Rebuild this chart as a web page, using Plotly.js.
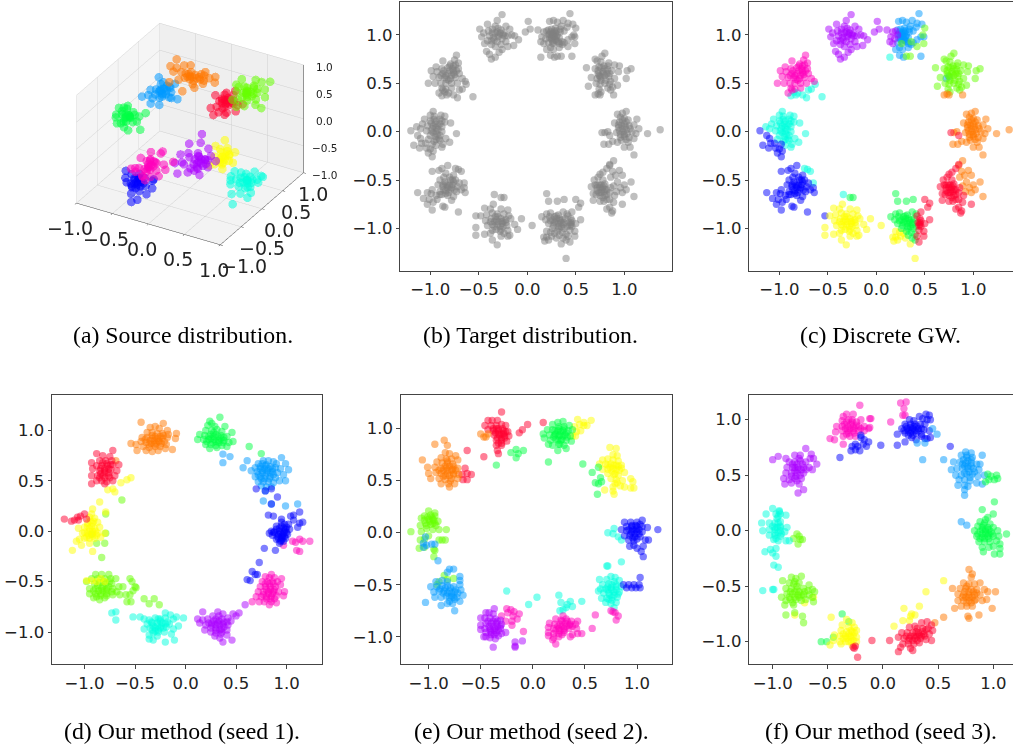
<!DOCTYPE html>
<html>
<head>
<meta charset="utf-8">
<script src="https://cdn.plot.ly/plotly-3.0.1.min.js"></script>
<style>html,body{margin:0;padding:0;background:#fff;overflow:hidden;width:1013px;height:746px}#g{width:1030px;height:746px}</style>
</head>
<body>
<div id="g"></div>
<script>
// colours
const RED='#ff0030',ORA='#ff7700',YEL='#ffff00',LIM='#66ff00',GRN='#00ff44',CYA='#00ffdd',AZU='#0099ff',BLU='#0000ff',PUR='#aa00ff',MAG='#ff00bb';
const captions=['(a) Source distribution.','(b) Target distribution.','(c) Discrete GW.','(d) Our method (seed 1).','(e) Our method (seed 2).','(f) Our method (seed 3).'];
const tickVals=[-1,-0.5,0,0.5,1];
const tickText=['\u22121.0','\u22120.5','0.0','0.5','1.0'];

// panel (a): source points x,y,z
const srcGreen=[[-.55,-.58,.5],[-.68,-.6,.5],[-.62,-.52,.6],[-.5,-.5,.55],[-.45,-.6,.45],[-.58,-.66,.42],[-.52,-.7,.5],[-.6,-.72,.45],[-.7,-.5,.55],[-.42,-.5,.5],[-.38,-.62,.5],[-.48,-.76,.45],[-.56,-.55,.62],[-.5,-.62,.58],[-.65,-.66,.5],[-.6,-.46,.6],[-.4,-.8,.45],[-.3,-.68,.42],[-.34,-.48,.58],[-.52,-.55,.48],[-.55,-.6,.5],[-.5,-.58,.52],[-.58,-.55,.52],[-.53,-.54,.5],[-.48,-.6,.52],[-.6,-.6,.54],[-.52,-.64,.46],[-.46,-.54,.54],[-.56,-.62,.48],[-.62,-.56,.56]];
const srcAzure=[[-.5,.16,.5],[-.62,.12,.5],[-.55,.25,.55],[-.45,.28,.52],[-.38,.2,.5],[-.32,.1,.48],[-.42,.05,.5],[-.55,.05,.42],[-.6,.22,.45],[-.68,.02,.42],[-.45,.14,.58],[-.5,.22,.62],[-.36,.26,.62],[-.4,-.05,.42],[-.52,-.05,.4],[-.58,.0,.5],[-.3,.02,.55],[-.62,.32,.6],[-.44,.18,.45],[-.28,.18,.42],[-.47,.14,.48],[-.5,.12,.52],[-.44,.1,.5],[-.48,.2,.52],[-.42,.16,.54],[-.52,.18,.5],[-.46,.06,.46],[-.54,.1,.46],[-.4,.22,.56],[-.46,.24,.56]];
const srcOrange=[[-.55,.55,.58],[-.48,.62,.55],[-.4,.66,.52],[-.34,.64,.5],[-.28,.7,.48],[-.22,.72,.52],[-.15,.72,.5],[-.1,.78,.5],[-.58,.68,.55],[-.5,.72,.6],[-.42,.74,.62],[-.36,.56,.55],[-.3,.58,.42],[-.45,.5,.5],[-.18,.62,.45],[-.24,.52,.42],[-.55,.45,.45],[-.35,.42,.38],[-.05,.68,.48],[-.25,.8,.52],[-.42,.6,.48],[-.62,.6,.62],[-.65,.8,.6],[-.36,.62,.52],[-.32,.68,.52],[-.28,.64,.5],[-.24,.66,.48],[-.38,.68,.55],[-.3,.6,.47],[-.42,.62,.55],[-.2,.68,.46],[-.34,.58,.5],[-.26,.72,.53]];
const srcRed=[[.3,.36,.5],[.2,.36,.45],[.24,.46,.55],[.36,.42,.58],[.4,.32,.52],[.3,.26,.42],[.22,.26,.42],[.16,.22,.4],[.12,.4,.5],[.32,.3,.48],[.42,.42,.42],[.46,.3,.4],[.38,.22,.4],[.28,.2,.38],[.18,.46,.42],[.26,.38,.58],[.34,.5,.6],[.5,.4,.48],[.4,.14,.42],[.22,.18,.32],[.32,.34,.48],[.34,.38,.52],[.3,.4,.52],[.36,.34,.46],[.26,.32,.46],[.28,.36,.5],[.38,.4,.5],[.32,.28,.44],[.24,.36,.48],[.4,.36,.48]];
const srcLime=[[.42,.63,.5],[.3,.6,.5],[.35,.7,.55],[.46,.74,.58],[.54,.68,.52],[.58,.58,.48],[.48,.54,.45],[.38,.5,.45],[.3,.5,.42],[.25,.68,.56],[.42,.85,.6],[.52,.82,.62],[.6,.76,.55],[.66,.66,.5],[.62,.5,.45],[.5,.44,.42],[.34,.58,.62],[.44,.58,.55],[.5,.62,.48],[.36,.76,.42],[.28,.76,.62],[.58,.92,.58],[.7,.5,.42],[.4,.42,.38],[.42,.64,.54],[.46,.66,.52],[.44,.6,.5],[.4,.68,.56],[.5,.66,.5],[.46,.58,.48],[.38,.62,.5],[.52,.72,.56],[.48,.7,.58],[.4,.56,.46]];
const srcCyan=[[.82,-.06,-.5],[.7,-.1,-.5],[.75,.05,-.48],[.85,.08,-.42],[.92,.02,-.5],[.98,-.06,-.48],[.88,-.14,-.55],[.78,-.18,-.55],[.7,-.24,-.5],[.62,0,-.45],[.66,-.16,-.42],[.95,-.18,-.6],[1.0,.02,-.42],[.85,-.26,-.6],[.96,-.28,-.62],[.8,.0,-.55],[.86,-.04,-.62],[.75,-.3,-.62],[1.05,-.1,-.52],[.92,.12,-.5],[.62,-.1,-.55],[.8,-.36,-.75],[.72,-.02,-.42],[.82,-.05,-.5],[.85,-.09,-.52],[.8,-.1,-.52],[.78,-.04,-.47],[.88,-.03,-.48],[.84,-.01,-.46],[.76,-.12,-.53],[.86,-.16,-.56],[.9,-.08,-.5],[.74,-.06,-.48]];
const srcYellow=[[.28,.27,-.5],[.2,.24,-.5],[.22,.34,-.42],[.3,.38,-.4],[.36,.32,-.45],[.4,.24,-.5],[.34,.18,-.55],[.26,.14,-.55],[.2,.12,-.58],[.44,.32,-.38],[.48,.2,-.48],[.38,.12,-.58],[.3,.28,-.6],[.24,.42,-.3],[.18,.3,-.35],[.3,.26,-.48],[.33,.28,-.46],[.28,.22,-.52],[.34,.24,-.5],[.26,.3,-.44],[.32,.34,-.42],[.38,.28,-.44],[.3,.2,-.54]];
const srcPurple=[[.1,.04,-.5],[-.02,.02,-.45],[.04,.12,-.42],[.14,.12,-.5],[.2,.04,-.5],[.14,-.06,-.55],[.04,-.06,-.58],[-.04,-.08,-.52],[-.1,-.02,-.55],[-.08,.1,-.45],[.02,.22,-.3],[.14,.2,-.35],[.22,.12,-.4],[.26,-.02,-.5],[.2,-.12,-.6],[.06,-.16,-.58],[-.06,-.2,-.62],[-.18,.08,-.5],[-.14,.22,-.38],[-.02,.32,-.22],[.1,.02,-.38],[.08,-.04,-.62],[-.2,-.02,-.6],[.3,.1,-.45],[.12,.06,-.46],[.14,.02,-.5],[.1,0,-.5],[.16,.08,-.46],[.08,.08,-.44],[.18,0,-.52],[.06,-.02,-.52],[.12,-.04,-.54],[.2,.08,-.46],[.04,.04,-.48]];
const srcMag=[[-.35,-.42,-.5],[-.45,-.45,-.5],[-.4,-.35,-.42],[-.3,-.32,-.42],[-.24,-.4,-.5],[-.26,-.5,-.56],[-.36,-.52,-.58],[-.44,-.55,-.5],[-.52,-.42,-.55],[-.5,-.32,-.42],[-.4,-.25,-.32],[-.28,-.22,-.32],[-.18,-.32,-.42],[-.16,-.48,-.52],[-.28,-.6,-.56],[-.4,-.46,-.62],[-.32,-.4,-.32],[-.6,-.38,-.62],[-.1,-.42,-.42],[-.05,-.32,-.32],[-.22,-.28,-.22],[-.3,-.46,-.42],[-.34,-.42,-.46],[-.32,-.38,-.44],[-.3,-.44,-.48],[-.36,-.38,-.44],[-.28,-.4,-.44],[-.38,-.44,-.5],[-.33,-.48,-.5],[-.26,-.36,-.4],[-.36,-.34,-.4],[-.3,-.36,-.38]];
const srcBlue=[[-.28,-.76,-.5],[-.36,-.72,-.48],[-.42,-.8,-.52],[-.32,-.84,-.55],[-.22,-.84,-.58],[-.18,-.76,-.52],[-.24,-.68,-.45],[-.32,-.66,-.42],[-.42,-.68,-.45],[-.46,-.76,-.48],[-.3,-.9,-.62],[-.2,-.92,-.68],[-.12,-.84,-.6],[-.1,-.74,-.55],[-.14,-.66,-.48],[-.28,-.76,-.42],[-.25,-.98,-.7],[-.5,-.68,-.42],[-.36,-.78,-.58],[-.16,-.6,-.5],[-.28,-.78,-.52],[-.3,-.74,-.48],[-.26,-.74,-.5],[-.32,-.78,-.52],[-.24,-.78,-.54],[-.34,-.74,-.48],[-.28,-.82,-.56],[-.22,-.74,-.5],[-.3,-.7,-.46],[-.36,-.8,-.52]];

// panel (c): target points by colour (panel (b) shows all of them in grey)
const tgtPur=[[-.26,1.21],[-.31,1.15],[-.41,1.11],[-.33,1.09],[-.49,1.06],[-.45,1.02],[-.4,1.04],[-.36,1.02],[-.31,1.03],[-.27,1.05],[-.22,1.09],[-.18,1.06],[-.16,1],[-.2,.99],[-.25,1],[-.3,.98],[-.35,.97],[-.47,.98],[-.44,.91],[-.41,.94],[-.42,.83],[-.39,.8],[-.37,.75],[-.33,.77],[-.29,.82],[-.26,.85],[-.27,.9],[-.33,.88],[-.37,.9],[-.13,.99],[-.09,.95],[-.14,.89],[-.2,.88],[-.22,.93],[.01,1.14],[.03,1.06],[-.02,1.03],[.11,1.05],[.15,.98],[.17,1.03],[.2,1.04],[.14,.93],[.17,.91],[.19,.96],[.22,1],[-.33,1.02],[-.29,1],[-.34,.95],[-.28,1.02],[-.31,.93],[-.24,1.02],[-.39,.99],[-.26,.96],[-.23,.99],[-.36,1.06],[-.3,1.07],[-.37,.94]];
const tgtAzu=[[.44,1.22],[.37,1.15],[.31,1.13],[.27,1.15],[.23,1.14],[.42,1.12],[.47,1.11],[.41,1.08],[.35,1.09],[.29,1.07],[.25,1.06],[.22,1.05],[.27,1.02],[.25,.98],[.28,.98],[.31,1],[.34,1.03],[.3,.94],[.26,.94],[.22,.92],[.24,.87],[.2,.85],[.27,.85],[.33,.87],[.36,.9],[.42,.95],[.46,.98],[.49,.98],[.46,.78],[.24,.79],[.28,.77],[.3,1.04],[.33,.97],[.26,1.01],[.29,1.02],[.23,.97],[.38,.92],[.72,.55],[.75,.57],[.24,1.03],[.28,1.04],[.26,.99],[.3,.98],[.25,.96],[.27,1],[.23,1.01],[.29,.95],[.32,.93],[.27,.92],[.34,1.06],[.38,1.04],[.33,.91]];
const tgtLim=[[.5,1.07],[.48,1],[.49,.91],[.42,.88],[.36,.93],[.26,.91],[.31,.78],[.35,.78],[.8,.81],[.77,.78],[.7,.75],[.72,.73],[.76,.72],[.84,.71],[.9,.69],[.95,.68],[.61,.66],[.7,.65],[.74,.67],[.79,.68],[.83,.64],[.87,.63],[.94,.62],[1.07,.65],[1.03,.63],[.66,.56],[.73,.6],[.78,.62],[.8,.58],[.84,.57],[.9,.55],[1.02,.55],[.63,.47],[.71,.5],[.76,.53],[.8,.5],[.85,.49],[.93,.48],[.74,.44],[.83,.45],[.86,.43],[.76,.41],[.88,.46],[.76,.66],[.8,.65],[.78,.6],[.74,.58],[.82,.6],[.76,.56],[.81,.53],[.83,.68],[.73,.63],[.86,.52],[.75,.49],[.85,.6]];
const tgtOra=[[.7,.38],[.73,.39],[.75,.38],[.89,.38],[1.02,.21],[.98,.19],[.93,.18],[.96,.15],[1,.14],[1.04,.12],[1.13,.13],[.9,.09],[.95,.1],[1,.08],[1.05,.06],[1.1,.07],[1.15,.03],[.94,.04],[.98,.03],[1.02,.02],[1.08,0],[1.12,-.02],[.92,-.01],[.96,-.03],[1,-.05],[1.05,-.06],[1.1,-.07],[.83,0],[.8,-.01],[1.24,-.02],[1.37,.02],[.97,-.09],[1.04,-.11],[.93,-.11],[.84,-.13],[.79,-.13],[.88,-.1],[1.06,-.16],[1,-.16],[1.1,-.24],[.89,-.3],[.85,-.35],[.88,-.41],[.95,-.4],[.91,-.45],[.86,-.47],[.98,-.45],[.93,-.52],[1.07,-.52],[1,-.55],[.96,-.58],[.89,-.56],[.92,-.62],[1.02,-.6],[.98,-.63],[1.1,-.67],[.97,.07],[1.01,.05],[.99,0],[1.03,-.02],[.95,.01],[1,-.03],[1.02,.1],[.98,.12],[1.06,.03],[.96,-.06],[1.02,-.08],[.94,.07]];
const tgtRed=[[.77,-.01],[.85,-.04],[.85,-.34],[.82,-.38],[.78,-.42],[.75,-.44],[.73,-.47],[.69,-.5],[.66,-.57],[.7,-.55],[.74,-.55],[.78,-.5],[.8,-.54],[.72,-.61],[.77,-.6],[.82,-.6],[.86,-.58],[.68,-.64],[.68,-.71],[.75,-.66],[.8,-.66],[.85,-.63],[.9,-.66],[.75,-.72],[.79,-.72],[.85,-.7],[.89,-.73],[.85,-.78],[.82,-.8],[.98,-.75],[.88,-.82],[.87,-.84],[.78,-.58],[.74,-.63],[.82,-.7],[.5,-.7],[.55,-.74],[.53,-.78],[.46,-.83],[.42,-.87],[.45,-.9],[.43,-.94],[.46,-.98],[.5,-.95],[.55,-.91],[.44,-1.02],[.49,-1.03],[.42,-1.08],[.49,-1.08],[.44,-1.14],[.76,-.55],[.75,-.58],[.79,-.62],[.76,-.63],[.72,-.58],[.79,-.56],[.82,-.65],[.72,-.55],[.78,-.68],[.71,-.65],[.8,-.6],[.45,-.94],[.46,-.92],[.44,-.97],[.45,-.96]];
const tgtGrn=[[.2,-.64],[.22,-.72],[.31,-.72],[.38,-.7],[.15,-.88],[.2,-.85],[.24,-.84],[.28,-.88],[.32,-.86],[.37,-.83],[.41,-.85],[.19,-.91],[.24,-.92],[.29,-.93],[.34,-.92],[.39,-.9],[.27,-.97],[.32,-.98],[.37,-.96],[.41,-.98],[.31,-1.03],[.36,-1.04],[.4,-1.06],[.33,-1.07],[.37,-1.1],[.4,-1.12],[.22,-.95],[.26,-1],[-.27,-.68],[-.24,-.68],[.3,-.9],[.33,-.9],[.36,-.91],[.28,-.94],[.32,-.95],[.35,-.94],[.38,-.94],[.3,-.87],[.35,-.98],[.33,-1],[.26,-.91],[.38,-1],[.23,-.88]];
const tgtYel=[[.05,-.97],[.2,-1.03],[.2,-1.09],[.22,-1.12],[.17,-1.09],[.25,-1.08],[.28,-1.05],[.35,-1.16],[.18,-1.13],[.4,-1.31],[.3,-1.1],[.24,-1.04],[-.35,-.75],[-.38,-.8],[-.44,-.79],[-.27,-.8],[-.2,-.81],[-.48,-.87],[-.42,-.86],[-.36,-.84],[-.31,-.85],[-.24,-.85],[-.19,-.87],[-.43,-.92],[-.37,-.9],[-.32,-.91],[-.27,-.9],[-.22,-.91],[-.17,-.9],[-.06,-.9],[-.53,-.99],[-.41,-.97],[-.36,-.96],[-.31,-.96],[-.26,-.95],[-.21,-.97],[-.13,-.96],[-.36,-1.02],[-.32,-1.01],[-.27,-1.01],[-.2,-1.02],[-.53,-1.07],[-.44,-1.06],[-.38,-1.05],[-.1,-1.01],[-.24,-1.05],[-.36,-1.12],[-.27,-1.08],[-.31,-1.17],[-.2,-1.08],[-.18,-1.07],[-.34,-.93],[-.3,-.93],[-.26,-.93],[-.33,-.88],[-.28,-.98],[-.24,-.92],[-.34,-.98],[-.38,-.93],[-.22,-.94],[-.3,-.88],[-.28,-1.03],[-.25,-.98]];
const tgtBlu=[[-.53,-.87],[-.82,-.35],[-.88,-.38],[-.91,-.4],[-.84,-.43],[-.98,-.41],[-.86,-.47],[-.8,-.47],[-.76,-.45],[-.9,-.5],[-.85,-.52],[-.79,-.5],[-.74,-.5],[-.7,-.53],[-.92,-.55],[-.87,-.57],[-.82,-.56],[-.77,-.55],[-.72,-.57],[-.65,-.58],[-.98,-.6],[-.9,-.62],[-.84,-.61],[-.79,-.6],[-.73,-.62],[-.68,-.6],[-.64,-.63],[-1.13,-.63],[-1.03,-.63],[-.99,-.64],[-.94,-.66],[-.88,-.65],[-.82,-.66],[-.76,-.67],[-1.07,-.69],[-1.01,-.7],[-.93,-.7],[-.78,-.71],[-1.03,-.75],[-.97,-.73],[-.87,-.77],[-.85,-.78],[-.98,-.81],[-.71,-.83],[-1.2,.01],[-1.13,-.04],[-1.1,-.07],[-1.17,-.14],[-1.09,-.12],[-1.11,-.17],[-1.05,-.12],[-.98,-.13],[-1.04,-.17],[-1,-.18],[-.97,-.2],[-1.02,-.22],[-.98,-.26],[-.82,-.58],[-.8,-.55],[-.86,-.6],[-.84,-.54],[-.78,-.58],[-.76,-.52],[-.81,-.63],[-.87,-.55],[-.75,-.6],[-.9,-.65],[-.84,-.64],[-.77,-.5]];
const tgtCya=[[.14,.77],[-.34,-.65],[-.74,-.38],[-.71,-.39],[-.68,-.41],[-.65,-.53],[-.97,.21],[-1,.17],[-.96,.16],[-.89,.17],[-.85,.16],[-1.06,.13],[-1,.11],[-.94,.11],[-.9,.13],[-.85,.1],[-1.14,.05],[-1.08,.08],[-1.03,.06],[-.97,.06],[-.92,.06],[-.88,.05],[-.79,.09],[-1.1,.03],[-1.04,.01],[-.99,.01],[-.94,0],[-.88,0],[-.73,-.02],[-1,-.04],[-.95,-.05],[-.9,-.04],[-.84,-.07],[-1.02,-.08],[-.96,-.1],[-.9,-.09],[-.8,-.11],[-.94,-.14],[-.87,-.13],[-.88,-.16],[-.85,.41],[-.81,.4],[-.76,.38],[-.72,.35],[-.7,.43],[-.67,.44],[-.63,.49],[-.56,.36],[-.83,.38],[-.88,.37],[-.95,.08],[-.98,.03],[-.94,.04],[-.9,.08],[-.97,-.01],[-.92,.02],[-.96,.13],[-.93,-.03],[-.91,-.07],[-.99,.09],[-.94,-.08],[-.88,.11]];
const tgtMag=[[-.73,.79],[-.75,.74],[-.87,.73],[-.79,.7],[-.74,.69],[-.71,.71],[-.94,.67],[-.88,.65],[-.82,.66],[-.77,.65],[-.71,.65],[-.99,.63],[-.93,.62],[-.87,.6],[-.82,.6],[-.76,.61],[-.7,.6],[-.97,.57],[-.91,.56],[-.85,.56],[-.79,.55],[-.74,.56],[-.67,.55],[-.64,.52],[-1.02,.5],[-.95,.5],[-.89,.5],[-.84,.5],[-.78,.5],[-.72,.5],[-.88,.45],[-.84,.44],[-.78,.45],[-.91,.4],[-.87,.43],[-.8,.63],[-.84,.58],[-.78,.58],[-.81,.53],[-.86,.63],[-.76,.63],[-.83,.54],[-.75,.59],[-.8,.68],[-.89,.58],[-.76,.68],[-.73,.63]];

// panel (d)
const dOra=[[-.44,1.08],[-.22,1.07],[-.3,1.04],[-.35,1.03],[-.26,1.02],[-.18,1],[-.38,.98],[-.33,.98],[-.28,.97],[-.23,.97],[-.17,.96],[-.09,.97],[-.43,.93],[-.38,.93],[-.33,.92],[-.28,.92],[-.23,.92],[-.18,.93],[-.1,.92],[-.44,.89],[-.39,.88],[-.34,.87],[-.29,.87],[-.24,.87],[-.19,.86],[-.54,.87],[-.49,.86],[-.42,.84],[-.36,.83],[-.3,.84],[-.25,.84],[-.2,.82],[-.13,.81],[-.48,.8],[-.39,.8],[-.33,.79],[-.27,.8],[-.69,.7],[-.31,.9],[-.27,.9],[-.35,.9],[-.3,.94],[-.25,.94],[-.36,.86],[-.31,.86],[-.26,.89],[-.21,.89],[-.4,.91],[-.33,.95],[-.22,.95]];
const dGrn=[[.34,1.13],[.24,1.09],[.26,1.07],[.22,1.05],[.29,1.04],[.39,1.04],[.2,1],[.26,1],[.31,1.01],[.36,.99],[.46,.98],[.14,.96],[.19,.95],[.25,.96],[.3,.96],[.35,.95],[.41,.94],[.12,.91],[.18,.91],[.23,.91],[.28,.91],[.33,.9],[.38,.9],[.43,.88],[.47,.89],[.2,.86],[.25,.86],[.3,.85],[.36,.85],[.41,.84],[.24,.82],[.31,.83],[.63,.84],[.75,.77],[.28,.94],[.32,.94],[.25,.92],[.3,.89],[.35,.92],[.23,.94],[.27,.88],[.33,.88],[.21,.89],[.37,.88],[.28,.98],[.38,.93]];
const dAzu=[[.37,.765],[.44,.74],[.37,.68],[.61,.7],[.57,.63],[.95,.73],[.99,.67],[1.02,.61],[.77,.3],[.85,.27],[.99,.25],[1.11,.27],[.72,.67],[.77,.7],[.82,.7],[.87,.69],[.9,.67],[.69,.63],[.74,.64],[.79,.65],[.84,.64],[.89,.63],[.94,.62],[.65,.6],[.71,.59],[.76,.6],[.81,.6],[.86,.59],[.91,.58],[.97,.56],[.69,.54],[.74,.54],[.79,.55],[.84,.54],[.89,.53],[.99,.5],[.72,.49],[.77,.49],[.82,.49],[.87,.48],[.93,.5],[.75,.45],[.8,.44],[.85,.44],[.79,.4],[.8,.58],[.76,.58],[.84,.58],[.78,.62],[.82,.62],[.74,.62],[.86,.62],[.78,.52],[.83,.52],[.75,.52],[.8,.66],[.76,.67],[.72,.56],[.87,.56]];
const dBlu=[[.7,.42],[.79,.4],[.85,.42],[.91,.34],[.85,.27],[.82,.16],[.87,.15],[.95,.12],[1.04,.15],[1.07,.16],[1.13,.19],[1.07,.11],[1.13,.08],[1.16,.09],[1.11,.04],[.89,-.19],[.78,-.17],[.73,-.31],[.66,-.4],[.69,-.43],[.61,-.48],[.64,-.49],[.71,-.43],[.85,0],[.9,.05],[.95,.05],[1,.04],[.83,-.02],[.88,-.01],[.93,0],[.98,0],[1.03,.02],[.86,-.04],[.91,-.05],[.96,-.04],[1.01,-.03],[.9,-.08],[.95,-.09],[.99,-.07],[.93,-.12],[.97,-.1],[.98,.07],[1.02,.07],[.95,.09],[.94,-.02],[.97,-.02],[.92,-.03],[.95,-.06],[.98,-.05],[.9,.02],[.99,.02],[.93,.03],[.96,-.07],[.94,-.1],[.92,-.07],[.87,-.01],[1,-.01],[.97,.03]];
const dMag=[[.97,-.14],[1.06,-.1],[1.09,-.11],[1.13,-.08],[1.16,-.1],[1.23,-.1],[1.1,-.19],[1.13,-.2],[.85,-.43],[.79,-.45],[.83,-.46],[.88,-.46],[.95,-.47],[.76,-.5],[.81,-.5],[.86,-.5],[.91,-.5],[.74,-.55],[.79,-.55],[.84,-.55],[.89,-.55],[.94,-.53],[.72,-.6],[.77,-.6],[.82,-.6],[.87,-.6],[.92,-.6],[.98,-.6],[.7,-.65],[.75,-.65],[.8,-.65],[.85,-.65],[.9,-.64],[.97,-.64],[.66,-.7],[.73,-.7],[.78,-.7],[.85,-.7],[.9,-.71],[.83,-.73],[.84,-.58],[.8,-.58],[.86,-.62],[.82,-.62],[.88,-.58],[.8,-.67],[.84,-.67],[.83,-.52],[.79,-.52],[.87,-.52],[.77,-.63],[.88,-.67]];
const dPur=[[.59,-.73],[.53,-.81],[.47,-.82],[.5,-.84],[.17,-.8],[.32,-.8],[.37,-.82],[.27,-.84],[.42,-.86],[.12,-.87],[.17,-.88],[.22,-.87],[.3,-.87],[.36,-.87],[.45,-.89],[.14,-.91],[.2,-.93],[.26,-.91],[.32,-.91],[.37,-.92],[.42,-.93],[.19,-.98],[.25,-.96],[.3,-.96],[.36,-.97],[.41,-.98],[.25,-1],[.3,-1.01],[.35,-1.02],[.41,-1.03],[.29,-1.04],[.34,-1.06],[.37,-1.1],[.46,-1.08],[.33,-.84],[.34,-.93],[.3,-.93],[.38,-.95],[.34,-.98],[.3,-.98],[.26,-.93],[.23,-.91],[.38,-.9],[.33,-.89],[.28,-.89],[.36,-1],[.41,-.9]];
const dCya=[[-.69,-.8],[-.73,-.81],[-.69,-.88],[-.52,-.85],[-.45,-.85],[-.41,-.87],[-.2,-.81],[-.15,-.83],[-.02,-.86],[-.09,-.85],[-.36,-.88],[-.3,-.86],[-.25,-.87],[-.2,-.86],[-.12,-.87],[-.38,-.92],[-.33,-.91],[-.28,-.91],[-.23,-.91],[-.18,-.9],[-.07,-.94],[-.41,-.97],[-.35,-.96],[-.3,-.96],[-.25,-.96],[-.19,-.95],[-.12,-.97],[-.36,-1.03],[-.32,-1.01],[-.27,-1],[-.21,-1],[-.14,-1.02],[-.36,-1.07],[-.32,-1.08],[-.2,-1.1],[-.11,-1.08],[-.28,-1.04],[-.28,-.94],[-.24,-.94],[-.32,-.94],[-.27,-.98],[-.22,-.96],[-.3,-.99],[-.25,-.89],[-.2,-.92],[-.34,-.9],[-.16,-.92],[-.27,-.87],[-.33,-.98]];
const dLim=[[-.89,-.43],[-.83,-.43],[-.76,-.43],[-.93,-.47],[-.87,-.47],[-.8,-.47],[-.74,-.47],[-.69,-.47],[-.98,-.5],[-.9,-.52],[-.85,-.51],[-.79,-.52],[-.73,-.52],[-.66,-.55],[-.62,-.55],[-.95,-.57],[-.89,-.57],[-.83,-.57],[-.78,-.57],[-.72,-.57],[-.68,-.6],[-.95,-.62],[-.89,-.62],[-.84,-.62],[-.78,-.62],[-.72,-.63],[-.65,-.63],[-.91,-.66],[-.85,-.68],[-.8,-.66],[-.55,-.47],[-.53,-.5],[-.5,-.55],[-.49,-.56],[-.52,-.59],[-.55,-.63],[-.59,-.63],[-.58,-.7],[-.54,-.7],[-.41,-.67],[-.36,-.72],[-.31,-.67],[-.26,-.73],[-.79,.17],[-.63,.31],[-.79,-.02],[-.88,-.12],[-.83,-.26],[-.93,-.03],[-.8,-.12],[-.82,-.59],[-.86,-.59],[-.78,-.59],[-.82,-.55],[-.76,-.55],[-.87,-.54],[-.84,-.64],[-.78,-.64],[-.73,-.6],[-.91,-.59],[-.81,-.5],[-.75,-.5],[-.88,-.65]];
const dYel=[[-.98,-.49],[-.93,-.49],[-.88,-.5],[-.84,-.47],[-.8,-.5],[-.85,.29],[-.92,.22],[-.93,.17],[-.79,.19],[-.64,.48],[-.58,.51],[-.54,.53],[-.77,.41],[-.72,.42],[-.7,.39],[-.95,.14],[-.9,.13],[-.87,.09],[-.92,.08],[-.97,.08],[-1,.04],[-.95,.03],[-.9,.03],[-.85,.04],[-1.06,.03],[-1.02,-.02],[-.97,-.02],[-.92,-.02],[-.87,-.02],[-.8,-.02],[-1.05,-.08],[-1,-.07],[-.95,-.07],[-.9,-.07],[-.84,-.06],[-1.08,-.1],[-1.03,-.14],[-.95,-.12],[-1.12,-.19],[-.92,-.2],[-.95,0],[-.92,0],[-.97,.05],[-.93,.05],[-.89,0],[-.96,-.04],[-.92,-.05],[-.88,-.04],[-1,-.01],[-.94,.1],[-.91,.1],[-.98,-.06]];
const dRed=[[-1.2,.12],[-1.13,.1],[-1.1,.11],[-1.07,.14],[-1.04,.15],[-1,.17],[-1.06,.11],[-.98,.12],[-.72,.8],[-.88,.77],[-.82,.75],[-.75,.74],[-.93,.68],[-.85,.7],[-.79,.7],[-.73,.7],[-.88,.65],[-.83,.65],[-.77,.65],[-.72,.66],[-.66,.66],[-.92,.62],[-.85,.6],[-.8,.6],[-.74,.61],[-.68,.6],[-.93,.55],[-.87,.55],[-.82,.55],[-.76,.55],[-.7,.55],[-.88,.5],[-.83,.5],[-.78,.49],[-.93,.47],[-.8,.47],[-.72,.5],[-.8,.62],[-.76,.62],[-.84,.62],[-.8,.58],[-.76,.58],[-.84,.57],[-.78,.67],[-.82,.68],[-.74,.66],[-.8,.53],[-.85,.53],[-.75,.53]];

// panel (e)
const eRed=[[-.3,1.16],[-.39,1.08],[-.43,1.08],[-.34,1.08],[-.46,1.03],[-.4,1.03],[-.35,1.03],[-.3,1.04],[-.26,1.03],[-.43,.99],[-.38,.98],[-.33,.98],[-.28,.98],[-.24,.97],[-.37,.94],[-.32,.94],[-.27,.93],[-.23,.93],[-.35,.89],[-.3,.89],[-.25,.88],[-.35,.84],[-.3,.84],[-.34,.79],[-.33,.76],[-.05,1.04],[-.1,.99],[-.13,.96],[.1,1.06],[-.47,.73],[-.63,.79],[-.65,.62],[-.63,.57],[-.59,.56],[-.67,.51],[-.63,.51],[-.68,.56],[-.33,.95],[-.3,.95],[-.36,.96],[-.28,.95],[-.33,1],[-.29,1],[-.34,.91],[-.3,.91],[-.26,.97],[-.38,1],[-.27,.91],[-.35,1],[-.3,.86],[-.33,.86]];
const eOra=[[-.5,.95],[-.47,.92],[-.45,.92],[-.43,.95],[-.85,.89],[-.94,.85],[-.82,.84],[-1.06,.7],[-.84,.77],[-.8,.76],[-.74,.74],[-.88,.72],[-.83,.71],[-.78,.71],[-.72,.7],[-.92,.68],[-.87,.67],[-.82,.67],[-.77,.66],[-1.01,.63],[-.94,.63],[-.88,.62],[-.83,.62],[-.77,.61],[-.72,.62],[-1,.57],[-.93,.58],[-.88,.57],[-.82,.57],[-.76,.56],[-.71,.56],[-.98,.52],[-.9,.52],[-.84,.51],[-.78,.52],[-.72,.52],[-.88,.47],[-.81,.47],[-.8,.44],[-.75,.47],[-.82,.6],[-.78,.6],[-.86,.6],[-.8,.64],[-.84,.64],[-.76,.64],[-.8,.55],[-.84,.55],[-.76,.57],[-.9,.6],[-.82,.69],[-.86,.54],[-.74,.6],[-.79,.5]];
const eGrn=[[-.35,.65],[-.21,.77],[-.16,.8],[-.14,.76],[-.09,.79],[-.16,.72],[.15,.68],[.48,.66],[.57,.58],[.63,.63],[.6,.48],[.63,.47],[.65,.53],[.66,.49],[.62,.37],[.24,1.06],[.29,1.07],[.19,1.04],[.25,1.02],[.3,1.02],[.35,1.03],[.14,.99],[.19,.99],[.24,.98],[.29,.98],[.34,.98],[.38,.99],[.1,.95],[.16,.94],[.21,.94],[.26,.94],[.31,.94],[.36,.93],[.11,.91],[.17,.89],[.22,.9],[.27,.89],[.32,.89],[.37,.88],[.15,.85],[.19,.84],[.25,.85],[.3,.84],[.32,.81],[.24,.79],[.25,.93],[.29,.93],[.22,.95],[.27,.97],[.32,.96],[.24,.89],[.28,.9],[.2,.92],[.33,.92],[.25,1],[.3,1],[.21,.98],[.26,.85]];
const eYel=[[.43,1.09],[.49,1.06],[.56,1.08],[.45,1.04],[.52,1.03],[.4,1.02],[.42,.97],[.46,.98],[.38,.93],[.41,.93],[.49,1.03],[.74,.82],[.8,.81],[.77,.75],[.81,.74],[.67,.7],[.72,.71],[.77,.7],[.82,.69],[.64,.66],[.7,.66],[.75,.66],[.8,.65],[.85,.65],[.67,.61],[.72,.61],[.77,.62],[.83,.6],[.88,.58],[.72,.57],[.78,.56],[.82,.55],[.75,.52],[.8,.51],[.86,.5],[.94,.52],[.96,.49],[.79,.47],[.84,.45],[.88,.44],[.77,.44],[.94,.43],[.97,.43],[.77,.4],[.69,.41],[.78,.37],[.78,.65],[.74,.63],[.8,.61],[.76,.59],[.82,.64],[.79,.57],[.72,.65],[.85,.62],[.81,.48]];
const eLim=[[-1,.21],[-1.04,.16],[-.98,.17],[-.94,.19],[-.94,.16],[-1.07,.14],[-1,.13],[-.96,.13],[-.91,.11],[-1.08,.07],[-1.03,.09],[-.98,.08],[-.93,.07],[-1.02,.04],[-.96,.03],[-.9,.03],[-.83,.03],[-1.17,.01],[-1.07,.01],[-1.08,-.07],[-1.04,-.06],[-1,-.03],[-.9,-.07],[-.87,-.07],[-.84,-.07],[-1.09,-.15],[-1.04,-.14],[-.94,-.17],[-.95,-.16],[-.95,-.23],[-.85,-.41],[-.82,-.45],[-.76,-.44],[-.92,-.5],[-.9,-.47],[-.99,.11],[-.96,.09],[-1.01,.15],[-.97,.15],[-.94,.09],[-1.02,.07],[-.95,.12],[-1.04,.12]];
const eAzu=[[-.91,-.27],[-.8,-.35],[-.76,-.35],[-.82,-.38],[-1.03,-.67],[-.7,-.42],[-.7,-.46],[-.93,-.47],[-.87,-.46],[-.82,-.47],[-.98,-.52],[-.92,-.52],[-.87,-.51],[-.82,-.51],[-.76,-.52],[-.7,-.5],[-.95,-.57],[-.9,-.56],[-.85,-.56],[-.8,-.56],[-.75,-.57],[-.69,-.55],[-.94,-.62],[-.88,-.62],[-.83,-.61],[-.78,-.61],[-.73,-.62],[-.67,-.6],[-.88,-.7],[-.82,-.68],[-.77,-.68],[-.7,-.66],[-.75,-.75],[-1.05,-.1],[-1.03,-.04],[-1.02,-.12],[-1.05,-.14],[-.94,-.11],[-.97,-.11],[-.82,-.58],[-.78,-.58],[-.86,-.58],[-.8,-.62],[-.76,-.62],[-.84,-.53],[-.79,-.53],[-.75,-.64],[-.72,-.58],[-.8,-.66],[-.89,-.54],[-.74,-.55]];
const eBlu=[[.88,.1],[.94,.1],[1,.1],[1.05,.12],[.9,.06],[.95,.06],[1,.06],[1.05,.06],[1.1,.05],[1.2,.03],[.85,.03],[.9,.02],[.95,.01],[1,.01],[1.05,.01],[.88,-.03],[.93,-.03],[.98,-.04],[1.03,-.04],[1.08,-.07],[1.11,-.07],[.92,-.07],[.97,-.08],[.93,-.13],[.97,-.12],[1,-.15],[1.06,-.13],[1.04,-.18],[1.06,-.23],[1.03,-.43],[.87,-.5],[.92,-.5],[.97,-.5],[1.02,-.5],[.9,-.53],[.95,-.53],[.99,-.53],[1.03,-.53],[.99,.03],[.96,.03],[1.02,.03],[.94,-.01],[.98,-.01],[1.02,-.01],[.95,.07],[.99,.07],[1.03,.08],[.92,.03],[.96,-.05],[1,-.06]];
const eCya=[[.72,0],[.78,.04],[.77,-.01],[.82,-.04],[.85,-.07],[.71,-.32],[.72,-.32],[.85,-.28],[.64,-.45],[.75,-.42],[.79,-.43],[.71,-.45],[.67,-.5],[.73,-.49],[.78,-.47],[.83,-.46],[.65,-.54],[.7,-.54],[.75,-.53],[.8,-.52],[.85,-.52],[.63,-.56],[.68,-.58],[.73,-.58],[.78,-.57],[.83,-.57],[.66,-.63],[.71,-.63],[.76,-.62],[.81,-.62],[.7,-.67],[.75,-.68],[.8,-.67],[.78,-.72],[.25,-.6],[.27,-.67],[.33,-.69],[.38,-.71],[.29,-.74],[.26,-.75],[.32,-.72],[.36,-.66],[.47,-.66],[.04,-.62],[-.04,-.69],[-.25,-.56],[.76,-.55],[.72,-.55],[.8,-.55],[.74,-.6],[.78,-.6],[.76,-.5],[.8,-.5],[.72,-.52],[.76,-.65],[.82,-.59],[.73,-.64]];
const eMag=[[.75,-.75],[.77,-.76],[.79,-.77],[.82,-.8],[.8,-.84],[.6,-.79],[.57,-.92],[.29,-.8],[.22,-.83],[.27,-.84],[.32,-.83],[.37,-.85],[.43,-.85],[.16,-.87],[.21,-.88],[.26,-.88],[.31,-.87],[.36,-.88],[.41,-.88],[.15,-.91],[.2,-.92],[.25,-.92],[.3,-.92],[.35,-.92],[.42,-.92],[.47,-.97],[.15,-.96],[.2,-.97],[.25,-.97],[.3,-.96],[.38,-.98],[.43,-.97],[.15,-.99],[.2,-1.01],[.25,-1],[.19,-1.03],[.22,-1.07],[.36,-1],[-.25,-.73],[-.21,-.74],[-.18,-.76],[-.24,-.77],[-.13,-.78],[-.19,-.8],[-.15,-.83],[-.2,-.85],[-.26,-.85],[-.2,-.89],[-.09,-.95],[-.3,-.8],[.28,-.9],[.32,-.9],[.24,-.9],[.3,-.94],[.26,-.94],[.28,-.85],[.33,-.85],[.22,-.94],[.35,-.89],[.38,-.9],[.28,-.98]];
const ePur=[[-.37,-.73],[-.45,-.77],[-.42,-.77],[-.38,-.78],[-.5,-.82],[-.46,-.82],[-.41,-.82],[-.36,-.83],[-.31,-.84],[-.5,-.89],[-.45,-.87],[-.4,-.87],[-.35,-.87],[-.3,-.88],[-.5,-.93],[-.46,-.92],[-.41,-.92],[-.36,-.92],[-.31,-.92],[-.26,-.96],[-.45,-.96],[-.4,-.96],[-.35,-.96],[-.3,-.97],[-.47,-1],[-.41,-1.01],[-.36,-1.02],[-.45,-1],[-.38,-1.1],[-.17,-1.05],[-.17,-1.09],[-.1,-1.04],[-.17,-1.1],[-.38,-.9],[-.34,-.9],[-.42,-.9],[-.37,-.94],[-.33,-.94],[-.41,-.94],[-.38,-.85],[-.34,-.85],[-.43,-.85],[-.37,-.98],[-.4,-.98],[-.33,-.99],[-.31,-.9]];

// panel (f)
const fMag=[[-.21,1.13],[-.33,1.05],[-.31,1],[-.36,1.03],[-.27,1.05],[-.12,1.01],[-.2,1],[-.37,.99],[-.33,.98],[-.28,.98],[-.24,.98],[-.42,.94],[-.37,.94],[-.32,.94],[-.27,.94],[-.22,.94],[-.17,.94],[-.12,.93],[-.43,.89],[-.37,.9],[-.32,.9],[-.27,.9],[-.22,.9],[-.17,.9],[-.36,.85],[-.3,.85],[-.25,.85],[-.48,.83],[-.44,.82],[-.36,.78],[-.13,.92],[-.11,1.01],[.16,1.15],[.21,1.16],[.19,1.1],[.18,1.04],[.2,1.04],[.07,.98],[-.3,.92],[-.26,.92],[-.34,.92],[-.29,.96],[-.24,.95],[-.35,.96],[-.31,.88],[-.26,.88],[-.2,.92],[-.28,1],[-.33,.87]];
const fBlu=[[.33,1.03],[.39,1.05],[.42,1.04],[.4,1],[.24,1],[.28,.99],[.36,1.01],[.43,1],[.2,.96],[.25,.96],[.29,.96],[.34,.96],[.38,.96],[.13,.87],[.17,.92],[.22,.92],[.27,.92],[.32,.92],[.37,.91],[.42,.9],[.2,.88],[.25,.88],[.3,.88],[.35,.87],[.43,.84],[.13,.77],[.2,.8],[.26,.84],[.3,.82],[.35,.85],[.38,.83],[.4,.83],[-.02,.77],[-.13,.8],[-.17,.82],[-.2,.84],[-.2,.86],[-.25,.78],[-.28,.76],[-.23,.76],[-.21,.72],[-.25,.73],[-.29,.72],[-.39,.66],[.61,.76],[-.18,.78],[-.15,.76],[.26,.9],[.23,.9],[.29,.9],[.25,.93],[.21,.94],[.28,.94],[.32,.9],[.23,.86],[.27,.86],[.31,.94],[.19,.9],[.35,.92]];
const fPur=[[-.7,.74],[-1,.64],[-.95,.67],[-.88,.65],[-.8,.68],[-.75,.68],[-.65,.69],[-.66,.65],[-.6,.6],[-.85,.62],[-.8,.62],[-.75,.63],[-.7,.62],[-.63,.65],[-.87,.57],[-.82,.57],[-.77,.57],[-.72,.57],[-.67,.57],[-.64,.55],[-.88,.52],[-.83,.52],[-.78,.52],[-.72,.52],[-.9,.47],[-.85,.46],[-.8,.47],[-.74,.47],[-.89,.42],[-.83,.43],[-.76,.42],[-.72,.37],[-.77,.34],[-.8,.57],[-.77,.55],[-.8,.54],[-.74,.55],[-.78,.6],[-.73,.6],[-.82,.6],[-.79,.49],[-.75,.5],[-.83,.49],[-.7,.55],[-.78,.45],[-.76,.65]];
const fAzu=[[.31,.79],[.38,.79],[.49,.87],[.45,.92],[.36,.64],[.55,.64],[.71,.08],[.76,.05],[.75,.71],[.8,.7],[.71,.68],[.76,.66],[.81,.66],[.9,.68],[.64,.62],[.7,.62],[.75,.61],[.8,.61],[.85,.6],[.88,.6],[.62,.55],[.67,.56],[.72,.56],[.77,.56],[.82,.56],[.87,.55],[.66,.5],[.71,.5],[.76,.51],[.81,.51],[.86,.49],[.92,.5],[.69,.46],[.74,.46],[.79,.45],[.85,.43],[.9,.42],[.68,.41],[.74,.41],[.77,.4],[.74,.37],[.74,.32],[.77,.58],[.74,.58],[.8,.58],[.77,.63],[.73,.64],[.8,.64],[.74,.52],[.78,.53],[.72,.6],[.83,.53],[.76,.68],[.79,.48]];
const fGrn=[[1.01,.26],[.9,.19],[1,.15],[.95,.12],[.95,.51],[.98,.49],[1.03,.5],[.96,.46],[1.01,.46],[1.04,.47],[.93,.44],[.93,.1],[.88,.08],[.92,.07],[.97,.06],[.86,.04],[.9,.03],[.95,.03],[1,.03],[.83,0],[.88,-.01],[.93,-.01],[.98,-.01],[1.04,0],[1.12,-.03],[.85,-.05],[.9,-.06],[.95,-.05],[1,-.05],[1.05,-.05],[.87,-.1],[.92,-.1],[.97,-.1],[1.03,-.09],[1.06,-.12],[.9,-.15],[.96,-.15],[1,-.14],[1.06,-.16],[.91,-.19],[1.01,-.21],[1.06,-.21],[-.37,-.75],[-.31,-.82],[-.56,-1],[-.51,-1],[-.45,-.96],[.93,-.03],[.9,-.03],[.96,-.03],[.93,.01],[.9,.01],[.96,.01],[.92,-.07],[.88,-.07],[.96,-.07],[.91,.05],[.86,-.03],[.99,-.03]];
const fOra=[[.78,-.35],[.81,-.39],[.8,-.42],[.73,-.47],[.78,-.48],[.83,-.48],[.88,-.47],[.63,-.52],[.7,-.52],[.75,-.52],[.8,-.53],[.85,-.53],[.92,-.53],[1.02,-.55],[.68,-.57],[.73,-.58],[.78,-.58],[.83,-.58],[.88,-.58],[.95,-.55],[.68,-.63],[.73,-.63],[.78,-.63],[.83,-.63],[.9,-.63],[.94,-.62],[.65,-.7],[.71,-.68],[.76,-.68],[.81,-.68],[.99,-.7],[.77,-.77],[.78,-.79],[.87,-.76],[.55,-.78],[.47,-.83],[.78,-.6],[.75,-.6],[.81,-.6],[.78,-.55],[.74,-.55],[.82,-.55],[.76,-.65],[.8,-.65],[.84,-.62],[.72,-.6],[.85,-.56],[.76,-.5]];
const fYel=[[.55,-.45],[.39,-.55],[.33,-.68],[.19,-.7],[.26,-.75],[.25,-.77],[.29,-.76],[.18,-.81],[.1,-.86],[.24,-.81],[-.47,-.78],[-.33,-.8],[-.28,-.83],[-.37,-.85],[-.31,-.87],[-.26,-.87],[-.38,-.9],[-.33,-.91],[-.28,-.91],[-.24,-.9],[-.44,-.94],[-.39,-.95],[-.34,-.95],[-.29,-.96],[-.24,-.96],[-.45,-.99],[-.39,-1],[-.34,-1],[-.29,-1],[-.24,-1],[-.48,-1.03],[-.38,-1.02],[-.28,-1.03],[-.63,-.6],[-.71,-.65],[-.8,-.76],[-.3,-.95],[-.27,-.95],[-.33,-.97],[-.29,-.9],[-.26,-.92],[-.31,-.93],[-.36,-.97],[-.27,-.99],[-.31,-1],[-.36,-.93]];
const fRed=[[.4,-.82],[.35,-.83],[.44,-.85],[.29,-.86],[.24,-.87],[.31,-.88],[.36,-.88],[.41,-.88],[.45,-.9],[.17,-.92],[.22,-.92],[.27,-.92],[.32,-.92],[.37,-.93],[.42,-.93],[.14,-.96],[.19,-.97],[.24,-.97],[.29,-.97],[.34,-.97],[.39,-.98],[.44,-.99],[.18,-1.02],[.23,-1.02],[.28,-1.02],[.33,-1.01],[.14,-1.09],[.16,-1.05],[.25,-1.06],[.27,-1.08],[.06,-.99],[-.1,-.99],[-.27,-1.05],[-.26,-1.06],[-.25,-1.04],[-.23,-1.14],[.28,-.95],[.25,-.95],[.31,-.95],[.33,-.94],[.27,-.99],[.23,-.99],[.31,-.99],[.36,-.91],[.39,-.89],[.35,-.95],[.21,-.95],[.38,-.95],[.3,-.91]];
const fLim=[[-.74,-.41],[-.83,-.42],[-.79,-.43],[-.91,-.45],[-.67,-.49],[-.85,-.47],[-.81,-.48],[-.76,-.47],[-.64,-.53],[-.88,-.52],[-.83,-.52],[-.78,-.53],[-.72,-.52],[-.68,-.54],[-.62,-.55],[-.92,-.6],[-.87,-.57],[-.82,-.57],[-.77,-.58],[-.72,-.58],[-.67,-.58],[-.64,-.6],[-.63,-.64],[-.89,-.67],[-.84,-.62],[-.79,-.62],[-.74,-.63],[-.7,-.62],[-.88,-.63],[-.81,-.67],[-.88,-.76],[-.8,-.74],[-.73,-.77],[-.72,-.83],[-.81,-.07],[-.76,-.05],[-.78,-.03],[-.75,-.08],[-.77,-.12],[-.73,-.08],[-.8,-.55],[-.76,-.55],[-.84,-.55],[-.8,-.6],[-.76,-.6],[-.85,-.6],[-.78,-.5],[-.74,-.58],[-.82,-.65],[-.71,-.55],[-.8,-.46]];
const fCya=[[-1,.2],[-.94,.18],[-1.06,.15],[-.97,.15],[-.93,.15],[-.88,.14],[-.96,.11],[-.93,.08],[-1.1,.07],[-1.03,.07],[-.98,.07],[-.93,.04],[-.87,.03],[-1.09,0],[-1.03,.01],[-.98,.01],[-.93,0],[-.89,-.01],[-1.03,-.04],[-.98,-.04],[-.93,-.05],[-.99,-.08],[-.95,-.09],[-.88,-.09],[-.85,-.09],[-1.07,-.19],[-1.02,-.17],[-.97,-.16],[-1,-.2],[-.97,-.23],[-.99,-.31],[-.95,-.33],[-1.09,-.54],[-1,-.53],[-.99,-.53],[-.96,.03],[-.93,.03],[-.98,.03],[-.95,.07],[-.98,-.02],[-.95,-.02],[-.92,-.03],[-.95,.13],[-.94,.17],[-1,.04],[-.97,-.07]];

// layout numbers (pixels)
const W=1030,H=746;
const GREY='#808080';
const panels=[
 {id:'',  box:[400.3,671.7,2,270.7],   xr:[-1.309,1.489],yr:[-1.437,1.34],
  series:[[GREY,tgtPur],[GREY,tgtAzu],[GREY,tgtLim],[GREY,tgtOra],[GREY,tgtRed],[GREY,tgtGrn],[GREY,tgtYel],[GREY,tgtBlu],[GREY,tgtCya],[GREY,tgtMag]]},
 {id:'2', box:[749.3,1020.7,2,270.7],  xr:[-1.31,1.489],yr:[-1.437,1.34],
  series:[[CYA,tgtCya],[BLU,tgtBlu],[MAG,tgtMag],[AZU,tgtAzu],[PUR,tgtPur],[LIM,tgtLim],[ORA,tgtOra],[YEL,tgtYel],[GRN,tgtGrn],[RED,tgtRed]]},
 {id:'3', box:[52,322.3,395.3,664.3],  xr:[-1.322,1.354],yr:[-1.32,1.348],
  series:[[ORA,dOra],[GRN,dGrn],[AZU,dAzu],[MAG,dMag],[BLU,dBlu],[PUR,dPur],[CYA,dCya],[LIM,dLim],[YEL,dYel],[RED,dRed]]},
 {id:'4', box:[400.7,671.7,395.3,664.3],xr:[-1.268,1.333],yr:[-1.265,1.321],
  series:[[YEL,eYel],[GRN,eGrn],[RED,eRed],[ORA,eOra],[LIM,eLim],[AZU,eAzu],[CYA,eCya],[BLU,eBlu],[MAG,eMag],[PUR,ePur]]},
 {id:'5', box:[749.3,1020.3,395.3,664.3],xr:[-1.212,1.245],yr:[-1.204,1.22],
  series:[[MAG,fMag],[BLU,fBlu],[PUR,fPur],[AZU,fAzu],[GRN,fGrn],[ORA,fOra],[YEL,fYel],[RED,fRed],[LIM,fLim],[CYA,fCya]]}
];

const traces=[];
const layout={width:W,height:H,margin:{l:0,r:0,t:0,b:0},paper_bgcolor:'#fff',plot_bgcolor:'#fff',showlegend:false,annotations:[]};
const TICKFONT='"DejaVu Sans", Verdana, sans-serif';

panels.forEach(p=>{
  const [x0,x1,y0,y1]=p.box;
  const axis=(r,dom)=>({domain:dom,range:r,tickmode:'array',tickvals:tickVals,ticktext:tickText,
    showgrid:false,zeroline:false,showline:true,mirror:true,linecolor:'#444',linewidth:1,ticks:'outside',ticklen:3.5,tickwidth:1,tickcolor:'#444',
    tickfont:{family:TICKFONT,size:16.5,color:'#222'}});
  layout['xaxis'+p.id]=Object.assign(axis(p.xr,[x0/W,x1/W]),{anchor:'y'+p.id});
  layout['yaxis'+p.id]=Object.assign(axis(p.yr,[1-y1/H,1-y0/H]),{anchor:'x'+p.id});
  p.series.forEach(([c,pts])=>{
    traces.push({type:'scatter',mode:'markers',xaxis:'x'+p.id,yaxis:'y'+p.id,hoverinfo:'skip',
      x:pts.map(q=>q[0]),y:pts.map(q=>q[1]),
      marker:{size:7.4,color:c,opacity:0.5,line:{width:0}}});
  });
});

// panel (a): 3D
[[GRN,srcGreen],[AZU,srcAzure],[ORA,srcOrange],[RED,srcRed],[LIM,srcLime],[YEL,srcYellow],[PUR,srcPurple],[CYA,srcCyan],[BLU,srcBlue],[MAG,srcMag]].forEach(([c,pts])=>{
  traces.push({type:'scatter3d',mode:'markers',scene:'scene',hoverinfo:'skip',
    x:pts.map(q=>q[0]),y:pts.map(q=>q[1]),z:pts.map(q=>q[2]),
    marker:{size:5,color:c,opacity:0.55,line:{width:0}}});
});
const axis3=(bg,tk)=>({range:[-1,1],tickvals:tickVals,tickformat:'.1f',title:{text:''},showticklabels:false,showgrid:true,gridcolor:'#cfcfcf',gridwidth:1,
  zeroline:false,showline:tk,linecolor:'#444',linewidth:1,showbackground:true,backgroundcolor:bg,showspikes:false,
  ticks:tk?'outside':'',ticklen:3,tickcolor:'#444'});
const sceneNotes=[];
const note=(x,y,z,t,size,xs,ys)=>sceneNotes.push({x,y,z,text:t,showarrow:false,xshift:xs,yshift:ys,font:{family:TICKFONT,size:size,color:'#222'}});
tickVals.forEach((v,i)=>{
  note(v,-1,-1,tickText[i],19,-6,-25);
  note(1,v,-1,tickText[i],19,[24,21,17,13,9][i],-21);
  note(1,1,v,tickText[i],10.5,21,-2);
});
layout.scene={domain:{x:[20/W,360/W],y:[1-268/H,1-0/H]},aspectmode:'manual',aspectratio:{x:1.24,y:1.24,z:.93},
  xaxis:axis3('#f5f5f5',true),yaxis:axis3('#efefef',true),zaxis:axis3('#f3f3f3',false),
  annotations:sceneNotes,
  camera:{eye:{x:.7,y:-1.21,z:.81},center:{x:0,y:0,z:0},up:{x:0,y:0,z:1},projection:{type:'orthographic'}}};

// z axis line on the far corner
const zLineX=[1,1],zLineY=[1,1],zLineZ=[-1,1];
traces.push({type:'scatter3d',mode:'lines',scene:'scene',hoverinfo:'skip',x:zLineX,y:zLineY,z:zLineZ,line:{color:'#444',width:1.5}});

// captions
const capPos=[[183,335],[530,335],[880,335],[182,731],[531,731],[881,731]];
captions.forEach((t,i)=>{
  layout.annotations.push({text:t,xref:'paper',yref:'paper',x:capPos[i][0]/W,y:1-capPos[i][1]/H,xanchor:'center',yanchor:'middle',showarrow:false,
    font:{family:'Liberation Serif',size:23.8,color:'#000'}});
});

Plotly.newPlot('g',traces,layout,{displayModeBar:false});
</script>
</body>
</html>
